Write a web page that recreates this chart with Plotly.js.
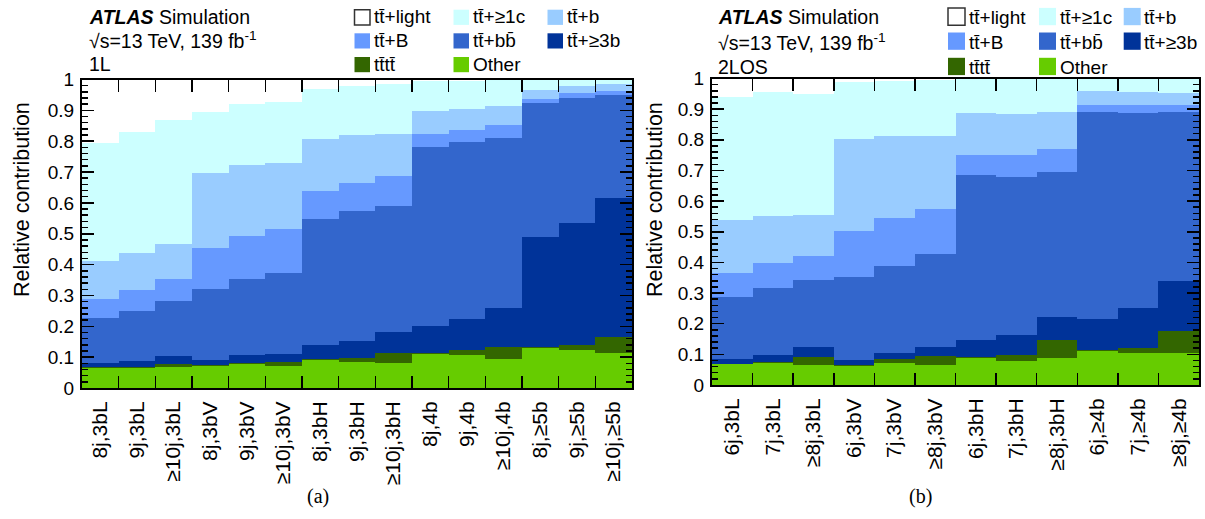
<!DOCTYPE html>
<html>
<head>
<meta charset="utf-8">
<script src="https://cdn.plot.ly/plotly-3.0.1.min.js"></script>
<style>html,body{margin:0;padding:0;background:#fff;}#chart{width:1205px;height:519px;}</style>
</head>
<body>
<div id="chart"></div>
<script>
// ---------- data ----------
const catsL = ['8j,3bL','9j,3bL','≥10j,3bL','8j,3bV','9j,3bV','≥10j,3bV','8j,3bH','9j,3bH','≥10j,3bH','8j,4b','9j,4b','≥10j,4b','8j,≥5b','9j,≥5b','≥10j,≥5b'];
const catsR = ['6j,3bL','7j,3bL','≥8j,3bL','6j,3bV','7j,3bV','≥8j,3bV','6j,3bH','7j,3bH','≥8j,3bH','6j,≥4b','7j,≥4b','≥8j,≥4b'];

// 1L region (left)
const otherL  = [0.064,0.066,0.067,0.072,0.077,0.070,0.091,0.085,0.082,0.110,0.107,0.093,0.129,0.124,0.113];
const ttttL   = [0.004,0.003,0.012,0.002,0.005,0.014,0.002,0.013,0.032,0.002,0.016,0.039,0.005,0.016,0.051];
const ge3bL   = [0.012,0.019,0.025,0.016,0.024,0.026,0.046,0.055,0.069,0.089,0.101,0.128,0.354,0.395,0.452];
const bbL     = [0.146,0.163,0.178,0.231,0.247,0.264,0.409,0.421,0.407,0.581,0.573,0.551,0.436,0.404,0.335];
const bigBL   = [0.061,0.066,0.071,0.134,0.140,0.140,0.090,0.091,0.096,0.041,0.039,0.042,0.013,0.016,0.011];
const bL      = [0.125,0.120,0.114,0.242,0.230,0.215,0.168,0.155,0.137,0.076,0.069,0.060,0.029,0.024,0.025];
const ge1cL   = [0.381,0.394,0.402,0.198,0.199,0.198,0.163,0.160,0.162,0.095,0.091,0.085,0.034,0.021,0.013];
const lightL  = [0.207,0.169,0.131,0.105,0.078,0.073,0.031,0.020,0.015,0.006,0.004,0.002,0.000,0.000,0.000];

// 2LOS region (right)
const otherR  = [0.068,0.073,0.066,0.062,0.073,0.065,0.087,0.079,0.089,0.111,0.103,0.106];
const ttttR   = [0.002,0.002,0.026,0.002,0.012,0.030,0.003,0.019,0.058,0.003,0.018,0.069];
const ge3bR   = [0.015,0.024,0.031,0.018,0.018,0.028,0.058,0.065,0.074,0.100,0.130,0.164];
const bbR     = [0.201,0.217,0.218,0.270,0.286,0.303,0.536,0.516,0.475,0.678,0.636,0.551];
const bigBR   = [0.079,0.081,0.080,0.152,0.155,0.149,0.067,0.071,0.074,0.022,0.025,0.022];
const bR      = [0.174,0.155,0.135,0.298,0.269,0.238,0.137,0.134,0.122,0.045,0.044,0.041];
const ge1cR   = [0.402,0.405,0.395,0.186,0.180,0.182,0.112,0.116,0.108,0.041,0.044,0.047];
const lightR  = [0.059,0.043,0.049,0.012,0.007,0.005,0.000,0.000,0.000,0.000,0.000,0.000];

const seriesNames = ['Other','tt̄tt̄','tt̄+≥3b','tt̄+bb̄','tt̄+B','tt̄+b','tt̄+≥1c','tt̄+light'];
const seriesColors = ['#66cc00','#336600','#003399','#3366cc','#6699ff','#99ccff','#ccffff','#ffffff'];
const headerL = ['<b><i>ATLAS</i></b> Simulation','√s=13 TeV, 139 fb<sup>-1</sup>','1L'];
const headerR = ['<b><i>ATLAS</i></b> Simulation','√s=13 TeV, 139 fb<sup>-1</sup>','2LOS'];
const legendOrder = [7,6,5,4,3,2,1,0]; // light, >=1c, b / B, bb, >=3b / tttt, Other

// ---------- build ----------
const W = 1205, H = 519;
const px = x => x / W, py = y => 1 - y / H;
const FONT = 'Liberation Sans, Arial, Helvetica, sans-serif';

const valsL = [otherL, ttttL, ge3bL, bbL, bigBL, bL, ge1cL, lightL];
const valsR = [otherR, ttttR, ge3bR, bbR, bigBR, bR, ge1cR, lightR];

const traces = [];
valsL.forEach((v, i) => traces.push({type:'bar', x: catsL, y: v, name: seriesNames[i], xaxis:'x', yaxis:'y',
  marker:{color: seriesColors[i], line:{width:0}}, hoverinfo:'skip'}));
valsR.forEach((v, i) => traces.push({type:'bar', x: catsR, y: v, name: seriesNames[i], xaxis:'x2', yaxis:'y2',
  marker:{color: seriesColors[i], line:{width:0}}, hoverinfo:'skip'}));

function xax(domain, anchor) {
  return {domain, anchor, type:'category', tickson:'boundaries', ticks:'inside', ticklen:12, tickwidth:1.5,
    tickcolor:'#000', mirror:'ticks', showline:true, linewidth:2, linecolor:'#000', showgrid:false, zeroline:false,
    tickangle:-90, tickfont:{family:FONT, size:21, color:'#000'}, ticklabelstandoff:3, fixedrange:true};
}
function yax(domain, anchor) {
  return {domain, anchor, range:[0,1], tick0:0, dtick:0.1, ticks:'inside', ticklen:12, tickwidth:1.5, tickcolor:'#000',
    mirror:'ticks', showline:true, linewidth:2, linecolor:'#000', showgrid:false, zeroline:false,
    minor:{dtick:0.02, ticks:'inside', ticklen:6, tickwidth:1.5, tickcolor:'#000', showgrid:false},
    tickfont:{family:FONT, size:19, color:'#000'}, ticklabelstandoff:2, fixedrange:true};
}

const annotations = [];
const shapes = [];
function addText(text, x, y, size, opts) {
  annotations.push(Object.assign({text, x: px(x), y: py(y), xref:'paper', yref:'paper', showarrow:false,
    xanchor:'left', yanchor:'middle', font:{family:FONT, size, color:'#000'}}, opts || {}));
}

// headers
const hdr = [
  {lines: headerL, x: 86.5, base: [23.4, 47.2, 70.8]},
  {lines: headerR, x: 715.5, base: [23.8, 49.2, 73.8]}
];
hdr.forEach(h => h.lines.forEach((t, i) => addText(t, h.x, h.base[i] - 6.8, 19.5)));

// legends
const legs = [
  {boxX:[354.5,453.5,547.5], boxTop:[9.7,33.3,57.0], bw:15.5, bh:15.2, base:[23.4,47.2,70.8]},
  {boxX:[948.0,1039.0,1123.7], boxTop:[7.9,32.5,57.8], bw:17.0, bh:17.3, base:[24.5,49.5,74.0]}
];
legs.forEach(L => {
  legendOrder.forEach((si, k) => {
    const r = Math.floor(k / 3), c = k % 3;
    const x0 = L.boxX[c], y0 = L.boxTop[r];
    const isLight = si === 7;
    shapes.push({type:'rect', xref:'paper', yref:'paper', x0: px(x0), x1: px(x0 + L.bw), y0: py(y0 + L.bh), y1: py(y0),
      fillcolor: seriesColors[si], line:{width: isLight ? 1.5 : 0, color:'#333'}, layer:'above'});
    addText(seriesNames[si], x0 + L.bw + 1.5, L.base[r] - 6.8, 19);
  });
});

// y titles
[22, 655].forEach(xc => annotations.push({text:'Relative contribution', x: px(xc), y: py(200), xref:'paper', yref:'paper',
  showarrow:false, textangle:-90, xanchor:'center', yanchor:'middle', font:{family:FONT, size:21.5, color:'#000'}}));

// sub-captions
[['(a)', 318], ['(b)', 921]].forEach(([t, xc]) => annotations.push({text:t, x: px(xc), y: py(496), xref:'paper', yref:'paper',
  showarrow:false, xanchor:'center', yanchor:'middle', font:{family:'Liberation Serif, Times New Roman, serif', size:20, color:'#000'}}));

const layout = {
  width: W, height: H, margin:{l:0, r:0, t:0, b:0}, paper_bgcolor:'#fff', plot_bgcolor:'#fff',
  barmode:'stack', bargap:0, showlegend:false,
  xaxis: xax([82/W, 632/W], 'y'),
  yaxis: yax([1 - 388/H, 1 - 79.5/H], 'x'),
  xaxis2: xax([712/W, 1199/W], 'y2'),
  yaxis2: yax([1 - 385/H, 1 - 78.5/H], 'x2'),
  annotations, shapes
};

Plotly.newPlot('chart', traces, layout, {staticPlot:true, displayModeBar:false});
</script>
</body>
</html>
